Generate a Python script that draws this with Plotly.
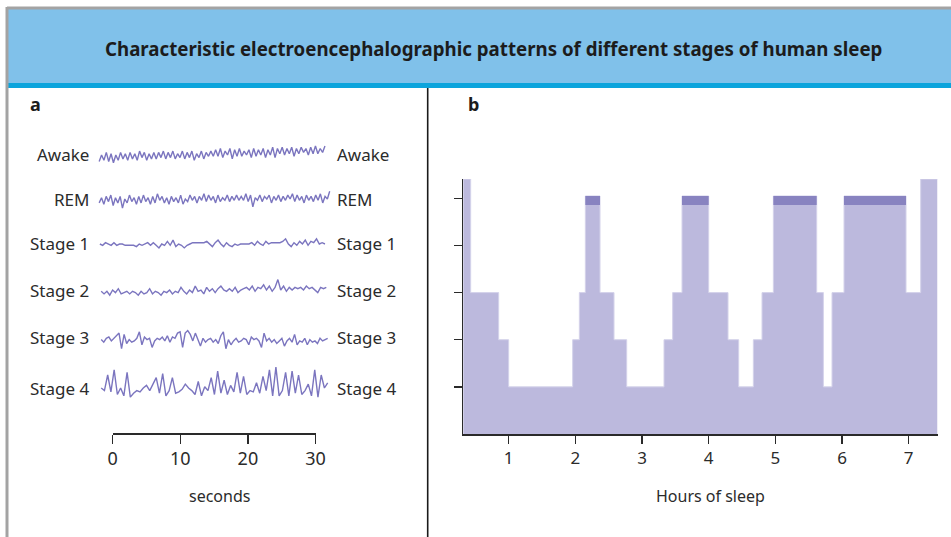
import numpy as np
import plotly.graph_objects as go

# ---------------- data ----------------
title_text = "Characteristic electroencephalographic patterns of different stages of human sleep"

eeg_stages = ["Awake", "REM", "Stage 1", "Stage 2", "Stage 3", "Stage 4"]

# EEG deflections (upward positive, arbitrary units)
awake_trace = [-5, 0, -4, 2, -5, 1, -6, 0, -4, 2, -3, 1, -4, 2, -3, 1, -4, 3, -2, 2, -4, 1, -3, 2,
               -3, 2, -2, 3, -3, 2, -2, 3, -3, 1, -2, 3, -3, 2, -2, 3, -4, 1, -2, 3, -3, 2, -1, 3,
               -1, 4, -1, 5, -2, 3, 0, 5, -3, 4, -1, 5, -1, 3, 0, 4, -2, 5, -1, 4, 0, 5, -2, 4,
               0, 6, -2, 5, 1, 6, 0, 5, 1, 6, -1, 5, 1, 6, 2, 5, 0, 6, 1, 7, 1, 5, 2, 7]
rem_trace = [-3, 1, -4, 2, -2, 3, -5, 1, -3, 2, -7, 0, -3, 3, -2, 1, -4, 2, -3, 3,
             -2, 1, -4, 2, -3, 4, -1, 2, -3, 1, -4, 2, -2, 1, -3, 3, -4, 0, -2, 3,
             -1, 2, -3, 2, -1, 4, -2, 3, -1, 2, -3, 3, -2, 1, -1, 3, -2, 2, -1, 3,
             -1, 2, -1, 4, -2, 3, -6, 1, -1, 3, -2, 2, 0, 3, -3, 2, -1, 3, -2, 2,
             -1, 3, 0, 4, -2, 3, -1, 2, -3, 3, -1, 2, -2, 3, -1, 4, -3, 2, 0, 6]
stage1_trace = [0, -1, 1, 0, -1, 1, -1, 0, 0, -1, -1, -1, -1, -2, 0, -1, 0, 1, -1, 1,
                -1, -3, 0, -1, 2, -1, 3, -2, 0, -1, -3, -1, 0, 1, 1, 1, 1, 1, 2, 0,
                -2, 1, 3, 0, -2, 1, -1, -2, 0, -1, 0, 0, 0, 0, 1, -1, 2, 0, -1, 2,
                0, 1, 1, 1, 1, 2, 4, 0, -2, 1, -1, 2, 0, 3, -1, 2, 1, 4, 0, 1, 0]
stage2_trace = [-1, -3, -1, -4, 0, -2, 1, -3, -2, -1, -3, -1, -2, -4, -1, -3, -2, 1, -3, -1,
                -2, -4, -1, -2, 0, -3, -1, -2, 2, -1, -3, 0, -2, 3, -1, 0, -3, 2, -1, 1,
                -2, 1, 3, 0, -1, 1, -1, 2, -2, 0, 1, 2, 0, 3, -1, 2, 1, 4, 0, 3,
                -1, 2, 8, 0, 3, -1, 2, 0, 2, 1, 2, 0, 3, 1, 2, 0, -2, 2, 1, 2]
stage3_trace = [-2, -4, -1, 0, -3, -1, 1, 3, -9, 2, -5, -2, -4, -3, -1, 4, -6, 0, -2, -1,
                -8, -3, -1, -2, 0, -3, 1, -4, 0, -1, 3, 4, -8, 3, 5, 2, -3, 3, -2, -7,
                -1, -4, -2, -1, -4, -2, -5, 1, 4, -9, -2, -6, -3, -1, -4, -3, -1, -2, -6, 0,
                -2, -1, -3, -8, 3, -3, -1, -4, -2, -5, -3, -1, -7, -3, -1, -4, 2, -6, -3, -4,
                -1, -6, -2, -4, -3, -5, -1, -3, -2, -1]
stage4_trace = [0, -2, 10, -3, 14, -5, 0, -6, 12, -7, -4, -2, -3, 0, 2, -2, 3, 8, -4, 11,
                -6, -2, 8, -4, -3, -1, 3, 0, -2, -5, 5, -6, 1, -2, 8, -5, 13, -4, 6, -5,
                2, -3, 12, -4, 9, -5, -2, -3, 4, -4, 9, -2, 14, -6, 16, -6, -2, 12, -6, 13,
                -4, 10, -5, -2, 3, -6, 14, -7, 10, 0, 4]
trace_start_s = [-2.0, -2.0, -1.9, -1.7, -1.7, -1.7]
trace_end_s = [31.4, 32.1, 31.4, 31.6, 31.8, 31.8]
sec_ticks = [0, 10, 20, 30]

# hypnogram (panel b)
hyp_start_h = [0.32, 0.43, 0.85, 1.00, 1.96, 2.06, 2.15, 2.37, 2.58, 2.77, 3.33, 3.46, 3.60,
               4.00, 4.29, 4.45, 4.67, 4.80, 4.97, 5.62, 5.72, 5.85, 6.03, 6.96, 7.18]
hyp_stage = ["Awake", "Stage 2", "Stage 3", "Stage 4", "Stage 3", "Stage 2", "REM", "Stage 2",
             "Stage 3", "Stage 4", "Stage 3", "Stage 2", "REM", "Stage 2", "Stage 3", "Stage 4",
             "Stage 3", "Stage 2", "REM", "Stage 2", "Stage 4", "Stage 2", "REM", "Stage 2", "Awake"]
hyp_end_h = 7.43
hour_ticks = [1, 2, 3, 4, 5, 6, 7]
stage_depth = {"Stage 4": 1, "Stage 3": 2, "Stage 2": 3, "Stage 1": 4, "REM": 5.05, "Awake": 5.41}
depth_ticks = [1, 2, 3, 4, 5]

# ---------------- styling / layout ----------------
W, H = 951, 537
FONT = "Noto Sans"
TXT = "#2b2b2b"
EEG_COLOR = "#7b75bf"
FILL = "#bcb9dd"
REM_DARK = "#8883c0"
AX = "#2a2a2a"
EEG_GAIN = 1.3
REM_BAND = 0.19


def px(xp):
    return xp / W


def py(yp):
    return (H - yp) / H


row_px = [155, 199, 244, 290, 337, 388]

fig = go.Figure()

traces = [awake_trace, rem_trace, stage1_trace, stage2_trace, stage3_trace, stage4_trace]
for name, vals, t0, t1, base in zip(eeg_stages, traces, trace_start_s, trace_end_s, row_px):
    t = np.linspace(t0, t1, len(vals))
    fig.add_trace(go.Scatter(
        x=t, y=[base - EEG_GAIN * v for v in vals], mode="lines",
        line=dict(color=EEG_COLOR, width=1.4), xaxis="x", yaxis="y",
        hoverinfo="skip", showlegend=False, name=name))

# invisible trace so that the seconds scale-bar axis is drawn
fig.add_trace(go.Scatter(x=sec_ticks, y=[0] * len(sec_ticks), mode="markers",
                         marker=dict(size=1, opacity=0), xaxis="x2", yaxis="y2",
                         hoverinfo="skip", showlegend=False))

# hypnogram
levels = [stage_depth[s] for s in hyp_stage]
fig.add_trace(go.Scatter(
    x=hyp_start_h + [hyp_end_h], y=levels + [levels[-1]],
    mode="lines", line=dict(shape="hv", color="#d4d2ea", width=1),
    fill="tozeroy", fillcolor=FILL, xaxis="x3", yaxis="y3",
    hoverinfo="skip", showlegend=False))

# darker REM bands on top of the REM plateaus
ends = hyp_start_h[1:] + [hyp_end_h]
rx, ry = [], []
top = stage_depth["REM"]
bot = top - REM_BAND
for s, a, b in zip(hyp_stage, hyp_start_h, ends):
    if s == "REM":
        rx += [a, b, b, a, a, None]
        ry += [bot, bot, top, top, bot, None]
fig.add_trace(go.Scatter(x=rx, y=ry, mode="lines", fill="toself", fillcolor=REM_DARK,
                         line=dict(width=0, color=REM_DARK), xaxis="x3", yaxis="y3",
                         hoverinfo="skip", showlegend=False))

# ---- axes ----
a_left, a_right = 95, 335
sec_per_px = 1 / 6.76
x0_px = 112.7
fig.update_layout(
    xaxis=dict(domain=[px(a_left), px(a_right)],
               range=[(a_left - x0_px) * sec_per_px, (a_right - x0_px) * sec_per_px],
               visible=False, anchor="y", automargin=False),
    yaxis=dict(domain=[py(410), py(130)], range=[410, 130], visible=False, anchor="x",
               automargin=False),
    xaxis2=dict(domain=[px(x0_px), px(x0_px + 30 / sec_per_px)], range=[0, 30],
                tickvals=sec_ticks, ticks="outside", ticklen=9, tickwidth=1.5, tickcolor=AX,
                showline=True, linecolor=AX, linewidth=1.5, showgrid=False, zeroline=False,
                tickfont=dict(family=FONT, size=18, color=TXT), anchor="y2", automargin=False),
    yaxis2=dict(domain=[py(433), py(430)], visible=False, anchor="x2", automargin=False),
    xaxis3=dict(domain=[px(463), px(937.7)], range=[0.315, 7.435],
                tickvals=hour_ticks, ticks="outside", ticklen=8, tickwidth=1.5, tickcolor=AX,
                showline=True, linecolor=AX, linewidth=1.5, showgrid=False, zeroline=False,
                tickfont=dict(family=FONT, size=17, color=TXT), anchor="y3", automargin=False),
    yaxis3=dict(domain=[py(434), py(179)], range=[0, 5.41],
                tickvals=depth_ticks, showticklabels=False, ticks="outside", ticklen=8,
                tickwidth=1.5, tickcolor=AX, showline=True, linecolor=AX, linewidth=1.5,
                showgrid=False, zeroline=False, anchor="x3", automargin=False),
)

shapes = [
    # banner
    dict(type="rect", xref="paper", yref="paper", x0=px(7), x1=1.0, y0=py(83), y1=py(9),
         fillcolor="#80c1ea", line=dict(width=0), layer="below"),
    dict(type="rect", xref="paper", yref="paper", x0=px(7), x1=1.0, y0=py(88), y1=py(83),
         fillcolor="#0ba4dc", line=dict(width=0), layer="below"),
    # gray frame
    dict(type="line", xref="paper", yref="paper", x0=px(7), x1=1.0, y0=py(8), y1=py(8),
         line=dict(color="#a3a3a3", width=3)),
    dict(type="line", xref="paper", yref="paper", x0=px(7), x1=px(7), y0=py(7), y1=0,
         line=dict(color="#a3a3a3", width=3)),
    # panel divider
    dict(type="line", xref="paper", yref="paper", x0=px(427.7), x1=px(427.7), y0=py(88), y1=0,
         line=dict(color="#1a1a1a", width=1.6)),
]


def note(text, x, y, size, xanchor="center", color=TXT):
    return dict(text=text, x=px(x), y=py(y), xref="paper", yref="paper", showarrow=False,
                xanchor=xanchor, yanchor="middle",
                font=dict(family=FONT, size=size, color=color))


ann = [
    note("<b>" + title_text + "</b>", 493, 48, 18.7, color="#1c1c1c"),
    note("<b>a</b>", 35, 104, 18, color="#1c1c1c"),
    note("<b>b</b>", 473, 104, 18, color="#1c1c1c"),
    note("seconds", 219, 496, 16),
    note("Hours of sleep", 710, 496, 16),
]
for name, rp in zip(eeg_stages, row_px):
    ann.append(note(name, 91, rp, 17, xanchor="right"))
    ann.append(note(name, 335, rp, 17, xanchor="left"))

fig.update_layout(
    width=W, height=H,
    margin=dict(l=0, r=0, t=0, b=0, pad=0, autoexpand=False),
    paper_bgcolor="white", plot_bgcolor="rgba(0,0,0,0)",
    shapes=shapes, annotations=ann, showlegend=False,
    font=dict(family=FONT, color=TXT),
)

fig.write_html(
    "out.html",
    config={"displayModeBar": False, "staticPlot": True},
    post_script=("document.documentElement.style.margin='0';"
                 "document.body.style.margin='0';"
                 "document.body.style.padding='0';"
                 "document.body.style.overflow='hidden';"
                 "document.documentElement.style.overflow='hidden';"
                 "var gd=document.getElementById('{plot_id}');"
                 "gd.style.position='fixed';gd.style.left='0px';gd.style.top='0px';"),
)
